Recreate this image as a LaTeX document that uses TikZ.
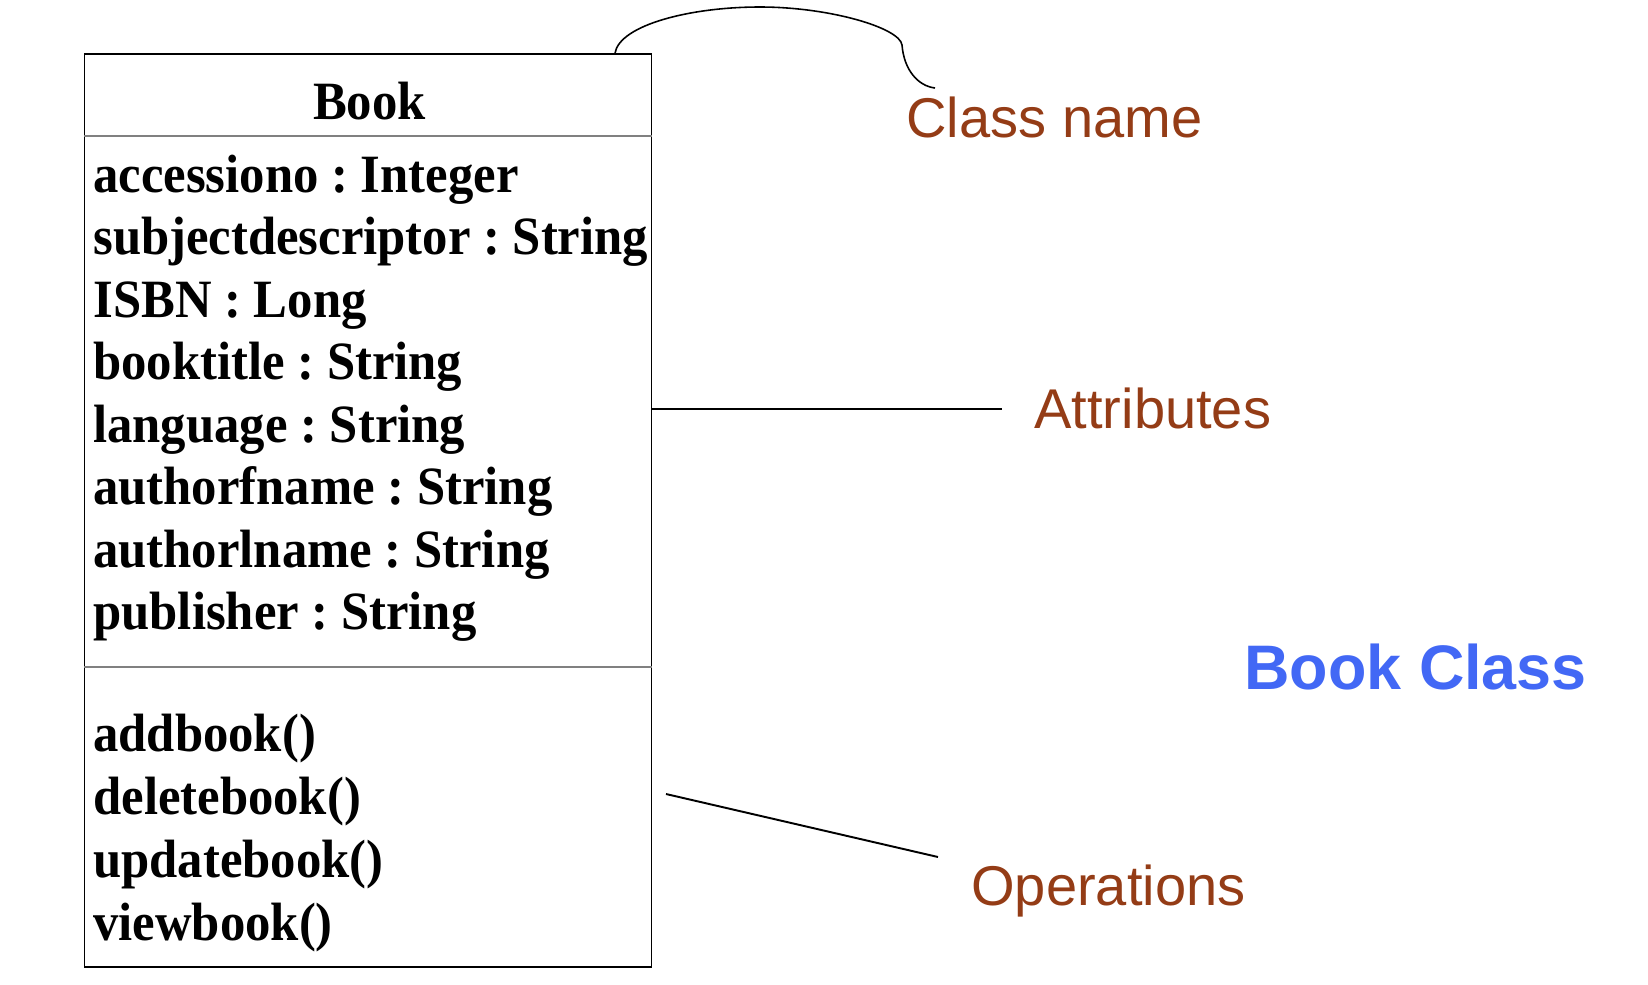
\documentclass[tikz,border=0pt]{standalone}
\usepackage{fontspec}
\setmainfont{Liberation Serif}
\newfontfamily\umlfont[FakeStretch=0.94]{Liberation Serif}
\newfontfamily\notefont{Liberation Sans}
\definecolor{notebrown}{RGB}{148,60,22}
\definecolor{titleblue}{RGB}{66,104,245}
\frenchspacing
\begin{document}
\begin{tikzpicture}[x=0.02cm,y=-0.02cm,
  member/.style={anchor=base west,inner sep=0pt,font=\umlfont\bfseries\fontsize{30.7}{36}\selectfont},
  note/.style={anchor=base west,inner sep=0pt,text=notebrown,font=\notefont\fontsize{31.9}{38}\selectfont},
  pointer/.style={line width=1.1pt},
  divider/.style={gray,line width=1.1pt}]
  \useasboundingbox (0,0) rectangle (1648,984);
  % 类框
  \node[draw,line width=0.8pt,inner sep=0pt,minimum width=11.34cm,minimum height=18.26cm] (book) at (368,510.5) {};
  % 分隔线
  \coordinate (head) at (0,136);
  \coordinate (sep) at (0,667);
  \draw[divider] (book.west |- head) -- (book.east |- head);
  \draw[divider] (book.west |- sep) -- (book.east |- sep);
  % 类名
  \node[member,anchor=base] (name) at (369.5,119) {Book};
  % 属性
  \foreach \txt [count=\i] in {accessiono : Integer,subjectdescriptor : String,ISBN : Long,
    booktitle : String,language : String,authorfname : String,authorlname : String,publisher : String}
    \node[member] (attr\i) at (93,{129.5+62.5*\i}) {\txt};
  % 操作
  \foreach \txt [count=\i] in {addbook(),deletebook(),updatebook(),viewbook()}
    \node[member] (op\i) at (93,{688+63*\i}) {\txt};
  % 说明文字
  \node[note] (classname) at (906,137) {Class name};
  \node[note] (attributes) at (1034,428) {Attributes};
  \node[note] (operations) at (971,905) {Operations};
  \node[anchor=base west,inner sep=0pt,text=titleblue,font=\notefont\bfseries\fontsize{35.8}{44}\selectfont] (title) at (1244,689) {Book Class};
  % 指示线
  \coordinate (namestart) at (615,53);
  \coordinate (nameend) at (935,88);
  \coordinate (attrstart) at (651,409);
  \coordinate (attrend) at (1002,409);
  \coordinate (opstart) at (666,794);
  \coordinate (opend) at (938,857);
  \draw[line width=0.9pt] (namestart) .. controls (620,25) and (690,7) .. (760,7)
    .. controls (830,7) and (900,28) .. (902,45) .. controls (904,70) and (918,86) .. (nameend);
  \draw[pointer] (attrstart) -- (attrend);
  \draw[pointer] (opstart) -- (opend);
\end{tikzpicture}
\end{document}
